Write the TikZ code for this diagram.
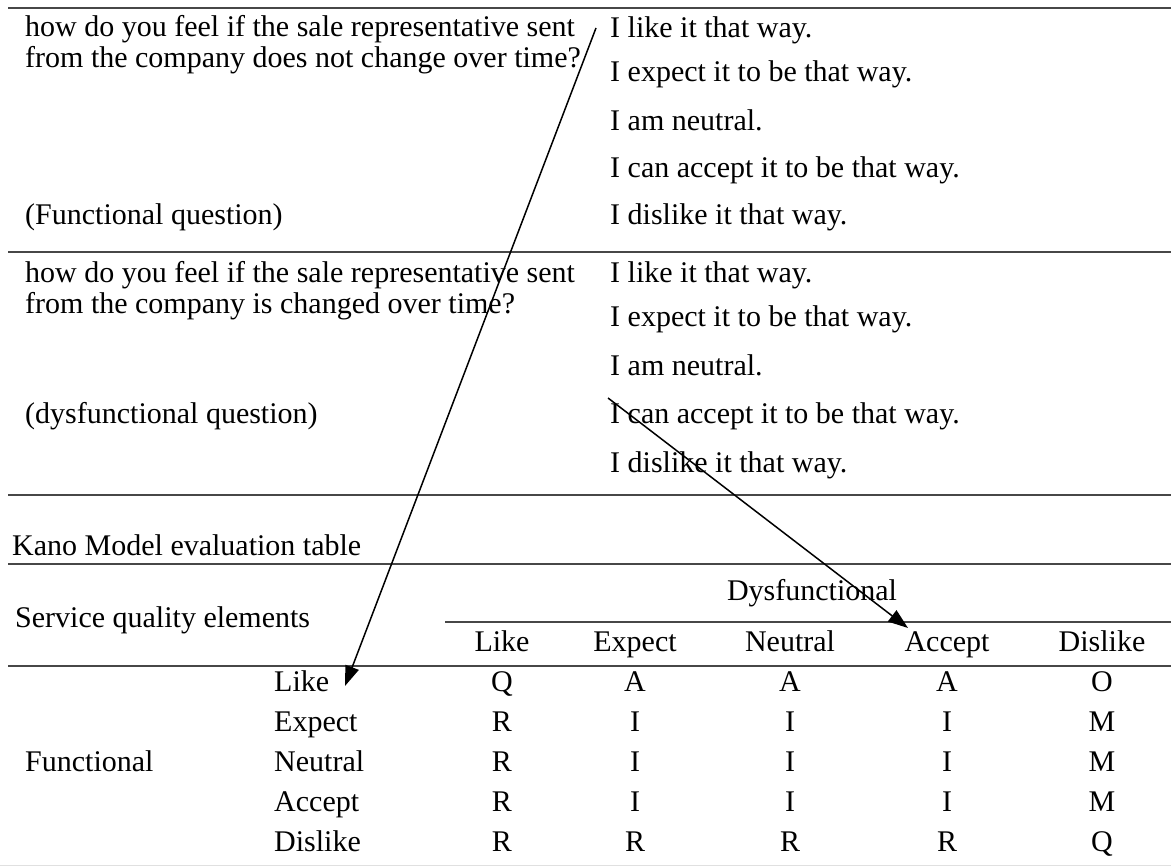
\documentclass[tikz,border=0pt]{standalone}
\usepackage{fontspec}
\setmainfont{Liberation Serif}
\usetikzlibrary{arrows.meta}
\begin{document}
\begin{tikzpicture}[x=1pt,y=-1pt,
  txt/.style={anchor=base west, inner sep=0pt, font=\fontsize{30}{36}\selectfont},
  ctr/.style={anchor=base, inner sep=0pt, font=\fontsize{30}{36}\selectfont},
  rulel/.style={line width=1.6pt, draw=black!72},
  faint/.style={line width=1pt, draw=black!12},
  arr/.style={line width=1.5pt, draw=black, -{Triangle[length=20pt,width=14pt]}}]
\useasboundingbox (0,0) rectangle (1171,866);

% horizontal rules
\draw[rulel] (8,8) -- (1171,8);
\draw[rulel] (8,252) -- (1171,252);
\draw[rulel] (8,495) -- (1171,495);
\draw[rulel] (8,564) -- (1171,564);
\draw[rulel] (445,622) -- (1171,622);
\draw[rulel] (8,666) -- (1171,666);
\draw[faint] (0,865) -- (1171,865);

% first question block
\node[txt] (q1a) at (25,37) {how do you feel if the sale representative sent};
\node[txt] (q1b) at (25,68) {from the company does not change over time?};
\node[txt] (q1c) at (25,225) {(Functional question)};
\node[txt] (r1a) at (610,38) {I like it that way.};
\node[txt] (r1b) at (610,82) {I expect it to be that way.};
\node[txt] (r1c) at (610,131) {I am neutral.};
\node[txt] (r1d) at (610,178) {I can accept it to be that way.};
\node[txt] (r1e) at (610,225) {I dislike it that way.};

% second question block
\node[txt] (q2a) at (25,283) {how do you feel if the sale representative sent};
\node[txt] (q2b) at (25,314) {from the company is changed over time?};
\node[txt] (q2c) at (25,424) {(dysfunctional question)};
\node[txt] (r2a) at (610,283) {I like it that way.};
\node[txt] (r2b) at (610,327) {I expect it to be that way.};
\node[txt] (r2c) at (610,376) {I am neutral.};
\node[txt] (r2d) at (610,424) {I can accept it to be that way.};
\node[txt] (r2e) at (610,473) {I dislike it that way.};

% table
\node[txt] (kano) at (12,555) {Kano Model evaluation table};
\node[txt] (sqe) at (15,627) {Service quality elements};
\node[ctr] (dys) at (812,600) {Dysfunctional};
\node[ctr] (h1) at (502,651) {Like};
\node[ctr] (h2) at (635,651) {Expect};
\node[ctr] (h3) at (790,651) {Neutral};
\node[ctr] (h4) at (947,651) {Accept};
\node[ctr] (h5) at (1102,651) {Dislike};
\node[txt] (func) at (25,771) {Functional};

\foreach \lab/\y/\a/\b/\c/\d/\e [count=\i] in
  {Like/691/Q/A/A/A/O, Expect/731/R/I/I/I/M, Neutral/771/R/I/I/I/M,
   Accept/811/R/I/I/I/M, Dislike/851/R/R/R/R/Q}{
  \node[txt] (row\i) at (274,\y) {\lab};
  \node[ctr] (c\i a) at (502,\y) {\a};
  \node[ctr] (c\i b) at (635,\y) {\b};
  \node[ctr] (c\i c) at (790,\y) {\c};
  \node[ctr] (c\i d) at (947,\y) {\d};
  \node[ctr] (c\i e) at (1102,\y) {\e};
}

% arrows
\coordinate (s1) at (596,28);
\coordinate (t1) at (345,686);
\coordinate (s2) at (608,398);
\coordinate (t2) at (908,628);
\draw[arr] (s1) -- (t1);
\draw[arr] (s2) -- (t2);
\end{tikzpicture}
\end{document}
